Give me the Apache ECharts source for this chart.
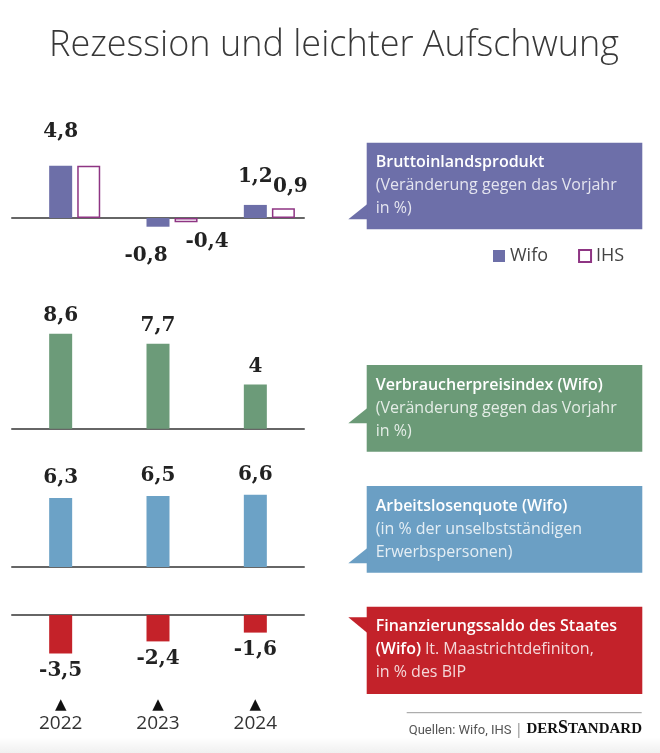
<!DOCTYPE html>
<html><head><meta charset="utf-8">
<script src="https://cdn.jsdelivr.net/npm/echarts@6/dist/echarts.min.js"></script>
<style>html,body{margin:0;padding:0;background:#fff}#c{width:660px;height:753px}</style>
</head><body><div id="c"></div>
<script>
// ---- data ----
const years = ['2022', '2023', '2024'];
const bipWifo = [4.8, -0.8, 1.2];
const bipIHS = [4.8, -0.4, 0.9];
const vpiWifo = [8.6, 7.7, 4];
const alqWifo = [6.3, 6.5, 6.6];
const saldoWifo = [-3.5, -2.4, -1.6];
const legendNames = ['Wifo', 'IHS'];
const titleText = 'Rezession und leichter Aufschwung';
const sourceText = 'Quellen: Wifo, IHS';
const boxBipLines = ['Bruttoinlandsprodukt', '(Veränderung gegen das Vorjahr', 'in %)'];
const boxVpiLines = ['Verbraucherpreisindex (Wifo)', '(Veränderung gegen das Vorjahr', 'in %)'];
const boxAlqLines = ['Arbeitslosenquote (Wifo)', '(in % der unselbstständigen', 'Erwerbspersonen)'];
const boxSaldoLines = ['Finanzierungssaldo des Staates', '(Wifo)', ' lt. Maastrichtdefiniton,', 'in % des BIP'];

// ---- styles ----
const C = {
  purple: '#6d6fa8', ihs: '#8e3583', green: '#6c9b79', blue: '#6ca2c6', red: '#c42229',
  boxPurple: '#6d6fa9', boxGreen: '#6b9a77', boxBlue: '#6b9fc4', boxRed: '#c3222a'
};
const SANS = '"Open Sans", "Noto Sans", sans-serif';
const SERIF = '"DejaVu Serif", serif';
const fmt = v => String(v).replace('.', ',');
const labelBase = { show: true, fontFamily: SERIF, fontWeight: 'bold', fontSize: 20, color: '#222', formatter: p => fmt(p.value) };
const bipWifoTweaks = [{ distance: 24 }, { distance: 19, offset: [-12, 0] }, { distance: 18 }];
const bipIhsTweaks = [{ show: false }, { distance: 9, offset: [21, 0] }, { distance: 11, offset: [7, 0] }];

function items(vals, tweaks) {
  return vals.map((v, i) => ({
    value: v,
    label: Object.assign({ position: v >= 0 ? 'top' : 'bottom' }, (tweaks && tweaks[i]) || {})
  }));
}

const gridX = { left: 12, width: 292, outerBoundsMode: 'none', containLabel: false };
const grids = [
  Object.assign({ top: 152.6, height: 87.2 }, gridX),
  Object.assign({ top: 318.3, height: 110.5 }, gridX),
  Object.assign({ top: 479.5, height: 87.6 }, gridX),
  Object.assign({ top: 615, height: 44 }, gridX)
];
const yRanges = [[-2, 6], [0, 10], [0, 8], [-4, 0]];

const xAxes = grids.map((g, i) => ({
  type: 'category', gridIndex: i, data: years,
  axisLine: { onZero: true, lineStyle: { color: '#666', width: 2 } },
  axisTick: { show: false },
  axisLabel: i === 3 ? {
    show: true, margin: 39, interval: 0,
    formatter: v => '{t|▲}\n{y|' + v + '}',
    rich: {
      t: { fontFamily: '"DejaVu Sans", sans-serif', fontSize: 15, color: '#111', lineHeight: 15, align: 'center' },
      y: { fontFamily: SANS, fontSize: 19, color: '#333', lineHeight: 22, align: 'center' }
    }
  } : { show: false },
  splitLine: { show: false }
}));
const yAxes = yRanges.map((r, i) => ({ type: 'value', gridIndex: i, min: r[0], max: r[1], show: false }));

const BW = 23;
const series = [
  { type: 'bar', name: 'spacer', xAxisIndex: 0, yAxisIndex: 0, data: years.map(() => '-'), barWidth: BW, barGap: '22%', silent: true },
  { type: 'bar', name: 'Wifo', xAxisIndex: 0, yAxisIndex: 0, data: items(bipWifo, bipWifoTweaks), barWidth: BW, barGap: '22%',
    itemStyle: { color: C.purple }, label: labelBase },
  { type: 'bar', name: 'IHS', xAxisIndex: 0, yAxisIndex: 0, data: items(bipIHS, bipIhsTweaks), barWidth: BW, barGap: '22%',
    itemStyle: { color: '#fff', borderColor: C.ihs, borderWidth: 1.5 }, label: labelBase },
  { type: 'bar', name: 'Verbraucherpreisindex', xAxisIndex: 1, yAxisIndex: 1, data: items(vpiWifo), barWidth: BW,
    itemStyle: { color: C.green }, label: Object.assign({ distance: 8 }, labelBase) },
  { type: 'bar', name: 'Arbeitslosenquote', xAxisIndex: 2, yAxisIndex: 2, data: items(alqWifo), barWidth: BW,
    itemStyle: { color: C.blue }, label: Object.assign({ distance: 10 }, labelBase) },
  { type: 'bar', name: 'Finanzierungssaldo', xAxisIndex: 3, yAxisIndex: 3, data: items(saldoWifo), barWidth: BW,
    itemStyle: { color: C.red }, label: Object.assign({ distance: 7 }, labelBase) }
];

// ---- annotation boxes ----
const BOX_L = 366.7, BOX_R = 642.3, TAIL_X = 348.3;
const boxRich = {
  b: { fontFamily: SANS, fontWeight: 600, fontSize: 16, fill: '#fff', lineHeight: 23 },
  r: { fontFamily: SANS, fontSize: 16, fill: 'rgba(255,255,255,0.82)', lineHeight: 23 }
};
function box(top, bottom, tipY, tailDir, color, richText) {
  const tail = tailDir === 'down'
    ? [[BOX_L + 1, tipY - 15.5], [TAIL_X, tipY], [BOX_L + 1, tipY]]
    : [[BOX_L + 1, tipY], [TAIL_X, tipY], [BOX_L + 1, tipY + 16]];
  return [
    { type: 'rect', shape: { x: BOX_L, y: top, width: BOX_R - BOX_L, height: bottom - top }, style: { fill: color } },
    { type: 'polygon', shape: { points: tail }, style: { fill: color } },
    { type: 'text', x: BOX_L + 9, y: top + 8.5,
      style: { text: richText, rich: boxRich, fill: '#fff', width: BOX_R - BOX_L - 9, overflow: 'truncate', ellipsis: '' } }
  ];
}
const threeLines = L => '{b|' + L[0] + '}\n{r|' + L[1] + '}\n{r|' + L[2] + '}';
const graphics = [].concat(
  box(142.7, 229.3, 219.3, 'down', C.boxPurple, threeLines(boxBipLines)),
  box(365, 451.7, 423.3, 'down', C.boxGreen, threeLines(boxVpiLines)),
  box(486, 572.7, 563.3, 'down', C.boxBlue, threeLines(boxAlqLines)),
  box(606.7, 694, 617.3, 'up', C.boxRed,
    '{b|' + boxSaldoLines[0] + '}\n{b|' + boxSaldoLines[1] + '}{r|' + boxSaldoLines[2] + '}\n{r|' + boxSaldoLines[3] + '}'),
  [
    { type: 'line', shape: { x1: 406.7, y1: 712.7, x2: 641.7, y2: 712.7 }, style: { stroke: '#9a9a9a', lineWidth: 1 } },
    { type: 'text', x: 642, y: 719,
      style: {
        text: '{q|' + sourceText + '}{s| | }{d|DER}{S|S}{d|TANDARD}', align: 'right',
        rich: {
          q: { fontFamily: '"Liberation Sans Narrow", "Roboto", sans-serif', fontSize: 13, fill: '#555', verticalAlign: 'bottom' },
          s: { fontFamily: SANS, fontSize: 14, fill: '#888', verticalAlign: 'bottom' },
          d: { fontFamily: '"Liberation Serif", serif', fontWeight: 'bold', fontSize: 15, fill: '#111', verticalAlign: 'bottom' },
          S: { fontFamily: '"Liberation Serif", serif', fontWeight: 'bold', fontSize: 18, fill: '#111', verticalAlign: 'bottom' }
        }
      } },
    { type: 'rect', shape: { x: 0, y: 737, width: 660, height: 16 }, silent: true,
      style: { fill: new echarts.graphic.LinearGradient(0, 0, 0, 1, [{ offset: 0, color: 'rgba(0,0,0,0)' }, { offset: 1, color: 'rgba(0,0,0,0.06)' }]) } }
  ]
);

const chart = echarts.init(document.getElementById('c'), null, { renderer: 'canvas' });
chart.setOption({
  backgroundColor: '#fff',
  animation: false,
  title: { text: titleText, left: 44, top: 23, textStyle: { fontFamily: SANS, fontWeight: 300, fontSize: 36, color: '#383838' } },
  legend: {
    data: legendNames, left: 493, top: 247, padding: 0, icon: 'rect', itemWidth: 12, itemHeight: 12, itemGap: 30,
    textStyle: { fontFamily: SANS, fontSize: 18, color: '#444' }, selectedMode: false
  },
  grid: grids,
  xAxis: xAxes,
  yAxis: yAxes,
  series: series,
  graphic: graphics
});
</script></body></html>
